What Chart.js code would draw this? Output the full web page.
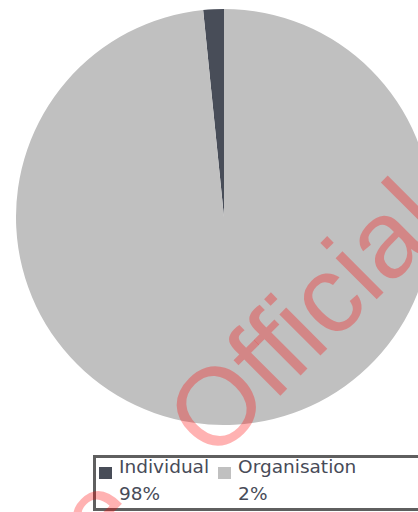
<!DOCTYPE html>
<html>
<head>
<meta charset="utf-8">
<script src="https://cdn.jsdelivr.net/npm/chart.js@4.4.0/dist/chart.umd.min.js"></script>
<style>
  html, body { margin: 0; padding: 0; background: #fff; overflow: hidden; }
  body { width: 418px; height: 512px; position: relative; }
  #pieWrap { position: absolute; left: 16px; top: 9px; width: 416px; height: 416px; }
  #legend {
    position: absolute; left: 93px; top: 455px; width: 400px; height: 56px;
    box-sizing: border-box; border: 3px solid #5f5f5f;
    display: flex; padding-left: 3px;
    font-family: "DejaVu Sans", Verdana, sans-serif; font-size: 18.5px; line-height: 27px; color: #474b58;
  }
  .item { display: flex; align-items: flex-start; margin-right: 9px; }
  .box { width: 13px; height: 12px; margin-top: 9px; margin-right: 7px; }
  .txt { margin-top: -5px; white-space: nowrap; }
  #mark { position: absolute; left: 0; top: 0; pointer-events: none; }
</style>
</head>
<body>
<div id="pieWrap"><canvas id="pie"></canvas></div>
<div id="legend"></div>
<canvas id="mark" width="418" height="512"></canvas>
<script>
// data
const categories = ['Individual', 'Organisation'];
const shares = [1.6, 98.4];          // slice sizes as drawn
const shareLabels = ['98%', '2%'];   // legend text as printed
const colours = ['#484d58', '#c0c0c0'];

const total = shares.reduce((a, b) => a + b, 0);

new Chart(document.getElementById('pie'), {
  type: 'pie',
  data: {
    labels: categories,
    datasets: [{
      data: shares,
      backgroundColor: colours,
      borderWidth: 0,
      hoverOffset: 0
    }]
  },
  options: {
    responsive: true,
    maintainAspectRatio: false,
    animation: false,
    events: [],
    rotation: -shares[0] / total * 360,
    layout: { padding: 0 },
    plugins: {
      legend: { display: false },
      tooltip: { enabled: false }
    }
  }
});

// legend
const legend = document.getElementById('legend');
categories.forEach((name, i) => {
  const item = document.createElement('div');
  item.className = 'item';
  const box = document.createElement('div');
  box.className = 'box';
  box.style.background = colours[i];
  const txt = document.createElement('div');
  txt.className = 'txt';
  txt.innerHTML = name + '<br>' + shareLabels[i];
  item.appendChild(box);
  item.appendChild(txt);
  legend.appendChild(item);
});

// watermark
const wm = document.getElementById('mark').getContext('2d');
wm.fillStyle = 'rgba(255,0,0,0.3)';
wm.font = '110px "Liberation Sans", Arial, sans-serif';
wm.save();
wm.translate(213, 463);
wm.rotate(-Math.PI / 4);
wm.fillText('Official', 0, 0);
wm.restore();
wm.save();
wm.translate(123, 541);
wm.rotate(-Math.PI / 4);
wm.textAlign = 'center';
wm.fillText('e', 0, 0);
wm.restore();
</script>
</body>
</html>
